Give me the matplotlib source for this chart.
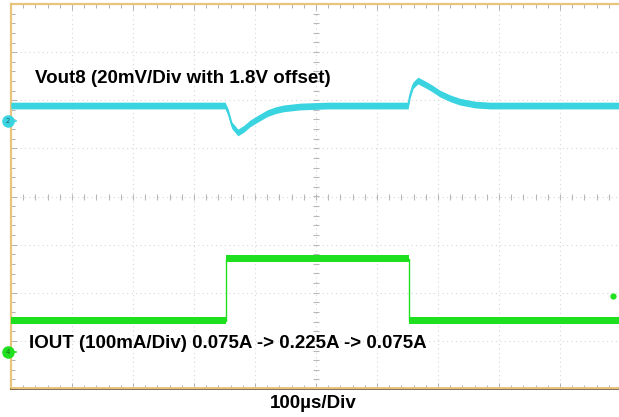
import numpy as np
import matplotlib
matplotlib.use('Agg')
import matplotlib.pyplot as plt
from matplotlib.ticker import MultipleLocator

# time axis in divisions (100us/div), vertical axis in divisions
vout_x = [0.0, 3.51, 3.56, 3.62, 3.72, 3.82, 3.92, 4.05, 4.20, 4.33, 4.46, 4.74, 5.2,
          6.51, 6.54, 6.59, 6.67, 6.79, 6.90, 7.03, 7.20, 7.36, 7.61, 7.85, 10.0]
vout_y = [1.89, 1.89, 1.75, 1.48, 1.33, 1.41, 1.52, 1.62, 1.73, 1.79, 1.83, 1.87, 1.89,
          1.89, 2.10, 2.31, 2.41, 2.33, 2.25, 2.14, 2.04, 1.97, 1.91, 1.89, 1.89]

iout_x = [0.0, 3.52, 3.52, 6.52, 6.52, 10.0]
iout_y = [-2.58, -2.58, -1.29, -1.29, -2.58, -2.58]

cyan = '#3ad4e0'
green = '#1fe01f'
edge = '#e9c47c'


def main():
    fig = plt.figure(figsize=(6.19, 4.17), dpi=100)
    ax = fig.add_axes([11 / 619, 28 / 417, 610 / 619, 385 / 417])
    ax.set_xlim(0, 10)
    ax.set_ylim(-4, 4)

    # grid
    for gx in range(1, 10):
        ax.axvline(gx, color='#d8d8d8', lw=0.8, ls=(0, (1, 3)), zorder=1)
    for gy in range(-3, 4):
        ax.axhline(gy, color='#d8d8d8', lw=0.8, ls=(0, (1, 3)), zorder=1)

    # center cross ticks
    sub = np.arange(0.2, 10, 0.2)
    ax.plot(sub, np.zeros_like(sub), ls='none', marker='|', ms=5, color='#b8b8b8', mew=0.8, zorder=1)
    subv = np.arange(-3.8, 4, 0.2)
    ax.plot(np.full_like(subv, 5.0), subv, ls='none', marker='_', ms=5, color='#b8b8b8', mew=0.8, zorder=1)

    # traces (noise band as thick fill)
    band = 0.07
    vy = np.array(vout_y)
    ax.fill_between(vout_x, vy - band, vy + band, color=cyan, lw=0, zorder=3)
    ax.plot(vout_x, vout_y, color=cyan, lw=1.2, zorder=3)
    iy = np.array(iout_y)
    ax.fill_between(iout_x, iy - band, iy + band, color=green, lw=0, zorder=3)
    ax.plot(iout_x, iout_y, color=green, lw=1.0, zorder=3)

    # channel markers
    ax.plot(-0.05, 1.56, marker='o', ms=8, color=cyan, clip_on=False, zorder=5)
    ax.text(-0.05, 1.56, '2', fontsize=5, ha='center', va='center', color='#206070', clip_on=False, zorder=6)
    ax.plot([0.03, 0.09], [1.56, 1.56], color=cyan, lw=1.2, clip_on=False, zorder=5)
    ax.plot(-0.05, -3.24, marker='o', ms=8, color=green, clip_on=False, zorder=5)
    ax.text(-0.05, -3.24, '4', fontsize=5, ha='center', va='center', color='#207020', clip_on=False, zorder=6)
    ax.plot([0.03, 0.09], [-3.24, -3.24], color=green, lw=1.2, clip_on=False, zorder=5)
    ax.plot(9.87, -2.06, marker='o', ms=3.5, color=green, zorder=5)

    # labels
    ax.text(0.39, 2.45, 'Vout8 (20mV/Div with 1.8V offset)', fontsize=13.5, fontweight='bold',
            family='Liberation Sans', va='center', ha='left', zorder=7)
    ax.text(0.30, -3.06, 'IOUT (100mA/Div) 0.075A -> 0.225A -> 0.075A', fontsize=13.5,
            fontweight='bold', family='Liberation Sans', va='center', ha='left', zorder=7)
    fig.text(313 / 619, 1 - 403 / 417, '100µs/Div', fontsize=13.5, fontweight='bold',
             family='Liberation Sans', va='center', ha='center')

    # frame
    ax.spines['right'].set_visible(False)
    for side in ['top', 'left']:
        ax.spines[side].set_color(edge)
        ax.spines[side].set_linewidth(1.6)
    ax.spines['bottom'].set_color('#6e5a3a')
    ax.spines['bottom'].set_linewidth(1.2)
    ax.axhline(-3.975, color=edge, lw=1.4, zorder=4)

    ax.xaxis.set_minor_locator(MultipleLocator(0.2))
    ax.yaxis.set_minor_locator(MultipleLocator(0.2))
    ax.set_xticks(range(0, 11))
    ax.set_yticks(range(-4, 5))
    ax.tick_params(which='both', direction='in', top=True, bottom=True, left=True, right=False,
                   labelbottom=False, labelleft=False, color='#b0b0b0', width=0.7)
    ax.tick_params(which='minor', length=3)
    ax.tick_params(which='major', length=4)

    fig.savefig('out.png', dpi=100)


if __name__ == '__main__':
    main()
